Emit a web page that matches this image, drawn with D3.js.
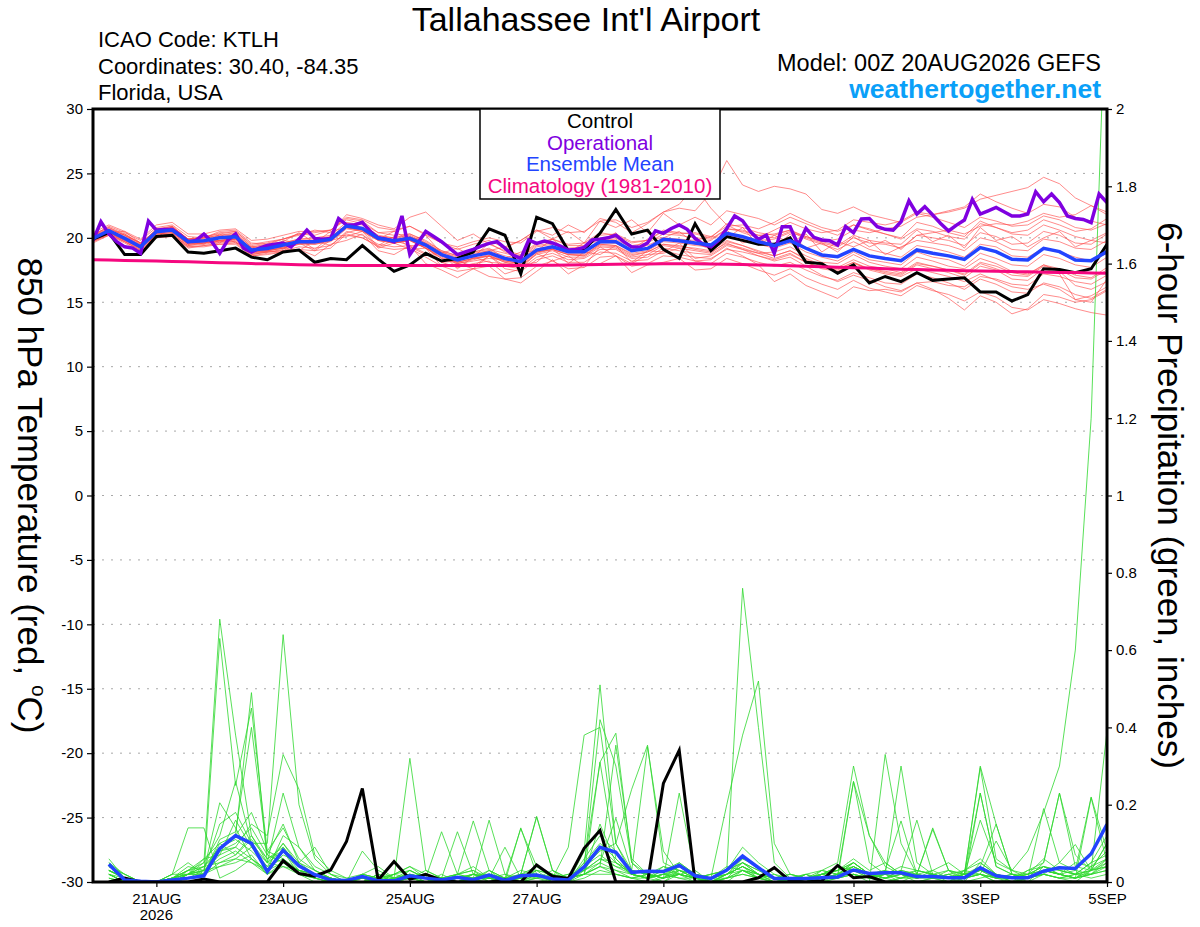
<!DOCTYPE html>
<html>
<head>
  <meta charset="utf-8" />
  <script src="https://d3js.org/d3.v7.min.js"></script>
  <style>
    * { margin: 0; padding: 0; }
    body { background: #fff; }
    svg { display: block; font-family: "Liberation Sans", Arial, Helvetica, sans-serif; }
  </style>
</head>
<body>
  <svg width="1200" height="927"></svg>

  <script>
    // run start and axis ticks
    const runStart = Date.UTC(2026, 7, 20, 0);
    const HOUR = 3600 * 1000;
    const dateTicks = [Date.UTC(2026, 7, 21), Date.UTC(2026, 7, 23), Date.UTC(2026, 7, 25), Date.UTC(2026, 7, 27),
                       Date.UTC(2026, 7, 29), Date.UTC(2026, 8, 1), Date.UTC(2026, 8, 3), Date.UTC(2026, 8, 5)];
    const dateLabels = ["21AUG", "23AUG", "25AUG", "27AUG", "29AUG", "1SEP", "3SEP", "5SEP"];
    const tempTicks = [-30, -25, -20, -15, -10, -5, 0, 5, 10, 15, 20, 25, 30];
    const precipTicks = [0, 0.2, 0.4, 0.6, 0.8, 1, 1.2, 1.4, 1.6, 1.8, 2];
    const legendItems = ["Control", "Operational", "Ensemble Mean", "Climatology (1981-2010)"];

    // 850 hPa temperature, 6-hourly from 00Z 20AUG
    const controlTemp = [19.9, 20.4, 18.7, 18.7, 20.1, 20.2, 18.9, 18.8, 19.0, 19.2, 18.5, 18.3, 18.9,
      19.05, 18.1, 18.4, 18.3, 19.4, 18.35, 17.4, 17.9, 18.8, 18.2, 18.4, 18.9, 20.7,
      20.2, 17.2, 21.6, 21.1, 19.0, 19.1, 20.35, 22.2, 20.3, 20.6, 19.1, 18.4, 21.1,
      19.0, 20.1, 19.8, 19.5, 19.5, 20.0, 18.1, 18.0, 17.25, 17.9, 16.5, 17.0, 16.6,
      17.3, 16.7, 16.8, 16.9, 15.8, 15.8, 15.1, 15.6, 17.6, 17.55, 17.3, 17.6, 19.5];

    const meanTemp = [19.96, 20.55, 19.96, 19.3, 20.47, 20.6, 19.7, 19.78, 20.0, 20.09, 19.05, 19.18, 19.44,
      19.7, 19.7, 19.88, 20.92, 20.73, 19.96, 19.78, 19.96, 19.44, 18.7, 18.28, 18.6, 18.84,
      18.4, 18.15, 19.05, 19.31, 18.92, 18.92, 19.7, 19.7, 19.0, 19.18, 19.88, 19.78, 19.6,
      19.44, 20.35, 20.09, 19.7, 19.4, 19.78, 19.19, 18.67, 18.54, 19.1, 18.6, 18.4, 18.23,
      19.06, 18.8, 18.6, 18.33, 19.24, 18.93, 18.33, 18.28, 19.19, 18.93, 18.28, 18.23, 18.93];

    const climoTemp = [18.3, 18.28, 18.25, 18.22, 18.2, 18.17, 18.14, 18.1, 18.07, 18.04, 18.0, 17.98, 17.95,
      17.92, 17.9, 17.88, 17.86, 17.85, 17.85, 17.85, 17.86, 17.86, 17.86, 17.86, 17.85, 17.85,
      17.85, 17.86, 17.87, 17.88, 17.9, 17.91, 17.93, 17.95, 17.96, 17.97, 17.98, 17.98, 17.98,
      17.97, 17.95, 17.93, 17.9, 17.87, 17.84, 17.8, 17.76, 17.72, 17.68, 17.65, 17.6, 17.57,
      17.54, 17.51, 17.48, 17.45, 17.43, 17.4, 17.38, 17.36, 17.33, 17.31, 17.3, 17.28, 17.26];

    // operational run, 3-hourly
    const operTemp = [19.8, 21.25, 20.3, 19.7, 19.3, 19.2, 18.8, 21.3, 20.6, 20.65, 20.65, 20.2, 19.7, 19.8, 20.3, 19.7,
      18.8, 19.8, 20.3, 19.2, 18.9, 19.2, 19.4, 19.5, 19.6, 19.3, 19.9, 20.6, 19.95, 19.9, 19.95, 21.5,
      21.0, 21.0, 21.2, 20.5, 20.0, 19.9, 19.7, 21.7, 18.7, 19.6, 20.5, 20.1, 19.7, 19.2, 18.7, 18.9,
      19.1, 19.36, 19.57, 19.7, 19.2, 18.66, 18.4, 19.83, 19.57, 19.75, 19.6, 19.36, 19.05, 19.1, 19.26, 19.83,
      19.9, 20.0, 20.2, 19.7, 19.3, 19.26, 19.6, 20.55, 20.35, 20.73, 21.0, 20.66, 19.96, 19.5, 19.31, 19.83,
      20.73, 21.7, 21.33, 20.47, 19.88, 20.2, 18.8, 20.87, 20.87, 19.44, 20.74, 20.04, 19.83, 19.78, 19.44, 20.87,
      20.4, 21.46, 21.5, 20.87, 20.66, 20.6, 21.25, 22.88, 21.85, 22.42, 21.77, 21.12, 20.53, 20.99, 21.38, 22.98,
      21.85, 22.1, 22.36, 22.03, 21.7, 21.7, 21.85, 23.58, 22.8, 23.4, 22.73, 21.7, 21.5, 21.43, 21.18, 23.4,
      22.73];

    // ensemble members, 6-hourly
    const memberTemp = [
      [20.2, 20.9, 20.4, 19.8, 20.8, 21.0, 20.1, 20.0, 20.5, 20.6, 19.6, 19.5, 19.9,
       20.3, 20.2, 20.6, 21.5, 21.3, 20.4, 20.5, 20.9, 20.3, 19.6, 19.1, 19.5, 19.8,
       19.2, 19.8, 20.6, 19.9, 20.5, 19.6, 21.3, 20.8, 21.4, 20.4, 21.9, 21.0, 21.6,
       21.0, 22.1, 21.8, 21.5, 21.0, 21.6, 21.1, 20.6, 20.2, 21.0, 20.7, 20.3, 20.0,
       21.2, 20.9, 20.4, 20.1, 21.3, 20.8, 20.4, 20.6, 21.4, 21.0, 20.5, 20.7, 21.5],
      [19.8, 20.3, 19.7, 19.0, 20.1, 20.2, 19.2, 19.4, 19.5, 19.6, 18.6, 18.8, 18.9,
       19.1, 19.0, 19.2, 20.3, 20.0, 19.3, 19.1, 19.2, 18.5, 17.8, 17.4, 17.6, 17.8,
       16.8, 16.5, 17.4, 18.3, 17.2, 17.9, 18.0, 18.6, 17.3, 17.9, 18.1, 18.4, 17.5,
       17.6, 18.4, 18.0, 17.5, 17.1, 17.6, 16.9, 16.4, 16.0, 16.7, 16.1, 15.8, 15.5,
       16.3, 15.9, 15.6, 15.1, 15.8, 15.4, 14.6, 14.4, 15.2, 14.9, 14.5, 14.2, 14.0],
      [20.1, 20.7, 20.2, 19.6, 20.6, 20.9, 19.9, 20.1, 20.3, 20.5, 19.5, 19.7, 19.9,
       20.3, 20.4, 20.6, 21.6, 21.4, 20.8, 20.6, 20.9, 20.2, 19.6, 19.3, 19.7, 20.0,
       19.7, 19.6, 20.5, 20.8, 20.4, 20.5, 21.3, 21.4, 20.8, 21.2, 22.0, 22.3, 22.1,
       23.5, 26.0, 24.1, 23.6, 24.0, 23.8, 23.4, 22.2, 21.9, 22.4, 21.8, 21.5, 21.2,
       21.9, 21.6, 21.2, 20.8, 21.6, 21.3, 20.9, 21.0, 21.7, 21.4, 20.8, 20.6, 21.1],
      [19.9, 20.5, 19.9, 19.2, 20.4, 20.5, 19.6, 19.6, 19.8, 19.9, 19.0, 19.0, 19.3,
       19.6, 19.5, 19.8, 20.8, 20.6, 19.9, 19.6, 19.8, 19.2, 18.5, 18.0, 18.3, 18.6,
       18.1, 17.9, 18.9, 19.1, 18.7, 18.6, 19.5, 19.4, 18.8, 19.0, 19.7, 19.6, 19.4,
       19.3, 20.2, 20.0, 19.8, 19.9, 20.4, 20.1, 19.7, 19.9, 20.6, 20.4, 20.7, 20.9,
       21.6, 21.8, 22.0, 22.3, 23.0, 23.3, 23.6, 23.9, 24.7, 24.2, 23.1, 22.5, 22.0],
      [19.7, 20.2, 19.6, 18.9, 20.0, 20.1, 19.3, 19.3, 19.5, 19.5, 18.6, 18.7, 18.9,
       19.1, 18.6, 19.5, 19.8, 20.3, 19.0, 18.7, 19.4, 18.0, 17.5, 16.9, 17.6, 17.0,
       16.8, 16.9, 17.8, 18.2, 17.6, 17.7, 18.5, 18.6, 17.8, 18.0, 18.6, 18.5, 18.2,
       18.0, 18.8, 18.5, 18.1, 17.8, 18.1, 17.5, 17.0, 16.7, 17.3, 16.9, 16.5, 16.4,
       17.2, 16.9, 16.5, 16.0, 16.8, 16.4, 15.8, 15.7, 16.5, 16.2, 15.6, 15.3, 16.0],
      [20.3, 20.8, 20.3, 19.5, 20.7, 20.9, 19.9, 20.0, 20.2, 20.4, 19.3, 19.5, 19.7,
       20.4, 19.6, 20.5, 20.8, 21.3, 19.9, 20.5, 19.8, 20.2, 18.8, 19.2, 18.5, 19.6,
       18.9, 18.6, 19.5, 19.9, 19.4, 19.4, 20.2, 20.3, 19.7, 19.8, 20.6, 20.4, 20.3,
       20.0, 21.1, 20.8, 20.4, 20.2, 20.6, 20.0, 19.6, 19.3, 20.0, 19.6, 19.5, 19.2,
       20.2, 20.0, 19.8, 19.4, 20.4, 20.1, 19.5, 19.6, 20.5, 20.2, 19.6, 19.5, 20.3],
      [19.8, 20.4, 19.8, 19.1, 20.2, 20.3, 19.4, 19.6, 19.7, 19.8, 18.8, 18.9, 19.1,
       19.9, 19.1, 20.1, 20.2, 20.0, 19.4, 20.1, 19.3, 18.7, 18.8, 17.6, 18.5, 18.1,
       18.0, 17.8, 18.7, 19.0, 18.5, 18.5, 19.3, 19.2, 18.5, 18.7, 19.4, 19.2, 19.0,
       18.8, 19.7, 19.4, 19.0, 18.6, 19.0, 18.4, 17.9, 17.7, 18.3, 17.8, 17.6, 17.3,
       18.1, 17.8, 17.5, 17.1, 18.0, 17.6, 17.1, 17.0, 17.8, 17.5, 16.9, 16.8, 17.5],
      [20.0, 20.6, 20.1, 19.5, 20.6, 20.8, 19.9, 20.0, 20.4, 20.5, 19.4, 19.6, 19.9,
       20.2, 20.6, 20.4, 21.8, 21.5, 21.0, 20.7, 21.6, 22.0, 20.9, 19.8, 20.3, 19.5,
       19.0, 18.7, 19.6, 19.9, 19.5, 19.6, 20.4, 20.2, 19.6, 19.8, 20.5, 20.3, 20.4,
       20.1, 20.9, 21.0, 20.7, 21.2, 21.9, 21.3, 20.8, 20.5, 21.0, 20.6, 20.3, 19.9,
       20.7, 20.5, 20.1, 19.9, 21.1, 20.8, 20.3, 20.2, 21.0, 20.6, 20.1, 19.8, 20.4],
      [19.9, 20.4, 19.8, 19.2, 20.3, 20.4, 19.5, 19.7, 19.8, 19.9, 18.9, 19.0, 19.2,
       19.5, 19.5, 19.7, 20.7, 20.5, 19.8, 19.6, 19.8, 19.2, 18.4, 18.1, 18.4, 18.6,
       18.2, 18.0, 18.9, 19.1, 18.7, 18.6, 19.4, 19.3, 18.6, 18.9, 19.5, 19.4, 19.1,
       18.9, 19.6, 19.1, 18.6, 18.2, 18.5, 17.8, 17.1, 16.6, 17.1, 16.7, 16.2, 15.9,
       16.5, 16.0, 15.3, 14.4, 15.5, 15.0, 14.1, 14.5, 15.6, 15.4, 15.0, 15.2, 15.9],
      [20.2, 20.7, 20.2, 19.4, 20.6, 20.7, 19.8, 19.9, 20.1, 20.2, 19.2, 19.3, 19.6,
       19.9, 19.9, 20.1, 21.0, 20.8, 20.1, 20.0, 20.2, 19.6, 18.9, 18.5, 18.8, 19.0,
       19.3, 19.8, 20.6, 20.2, 21.0, 20.4, 21.5, 21.2, 20.4, 21.1, 22.0, 22.6, 24.0,
       22.3, 21.0, 20.4, 20.0, 20.6, 21.2, 20.7, 20.4, 20.6, 21.4, 21.2, 21.0, 21.3,
       22.0, 21.8, 22.1, 22.4, 23.4, 22.8, 22.3, 21.9, 22.6, 22.4, 21.6, 21.3, 21.0],
      [19.6, 20.2, 19.7, 19.0, 20.1, 20.3, 19.3, 19.4, 19.6, 19.7, 18.7, 18.9, 19.0,
       19.3, 19.2, 19.4, 20.5, 20.2, 19.5, 19.3, 19.4, 18.8, 18.1, 17.7, 18.0, 18.2,
       17.2, 17.6, 18.8, 18.2, 18.6, 17.8, 19.3, 18.6, 18.0, 18.7, 18.8, 19.2, 18.2,
       18.3, 19.2, 18.6, 17.9, 16.6, 17.2, 16.3, 15.8, 15.3, 16.2, 15.9, 16.0, 15.8,
       16.5, 16.6, 16.3, 16.2, 17.0, 16.8, 16.4, 16.3, 17.2, 17.0, 16.6, 16.4, 17.1],
      [20.1, 20.6, 20.0, 19.4, 20.5, 20.6, 19.8, 19.8, 20.1, 20.2, 19.2, 19.3, 19.5,
       19.8, 19.8, 20.0, 21.0, 20.8, 20.1, 19.9, 20.1, 19.6, 18.9, 18.4, 18.7, 19.0,
       18.6, 18.3, 19.3, 19.5, 19.1, 19.0, 19.8, 19.9, 19.2, 19.4, 20.0, 19.9, 19.8,
       20.1, 20.0, 20.8, 19.4, 20.2, 19.6, 20.3, 18.9, 19.7, 19.3, 19.8, 18.7, 19.3,
       19.8, 19.6, 19.4, 19.0, 20.0, 19.7, 19.1, 19.0, 19.9, 19.7, 19.2, 19.1, 19.8],
      [19.7, 20.3, 19.7, 19.1, 20.2, 20.2, 19.4, 19.5, 19.7, 19.7, 18.7, 18.9, 19.0,
       19.6, 19.0, 19.8, 20.1, 20.5, 19.2, 19.6, 19.1, 19.2, 17.8, 18.0, 17.6, 18.6,
       17.6, 17.4, 18.3, 18.6, 18.1, 18.1, 18.9, 18.8, 18.2, 18.3, 19.0, 18.7, 18.5,
       18.4, 19.1, 18.9, 18.6, 18.3, 18.7, 18.1, 17.6, 17.4, 18.0, 17.6, 17.3, 17.1,
       17.9, 17.6, 17.3, 16.9, 17.8, 17.5, 16.8, 16.7, 17.6, 17.2, 15.2, 15.0, 16.8],
      [20.4, 21.0, 20.5, 19.9, 21.0, 21.2, 20.3, 20.3, 20.6, 20.7, 19.8, 19.9, 20.2,
       20.5, 20.5, 20.6, 21.4, 21.1, 20.4, 20.2, 20.3, 19.7, 19.0, 18.6, 18.9, 19.2,
       18.4, 18.9, 19.0, 19.9, 18.9, 19.6, 19.7, 20.4, 19.1, 19.9, 20.0, 20.5, 19.5,
       19.8, 20.7, 20.6, 20.2, 20.0, 20.5, 19.9, 19.5, 19.1, 19.7, 19.1, 18.8, 18.5,
       19.4, 19.2, 18.9, 18.5, 19.5, 19.3, 18.6, 18.5, 19.2, 18.9, 18.5, 18.2, 18.8],
      [19.8, 20.3, 19.8, 19.2, 20.3, 20.4, 19.5, 19.6, 19.8, 19.9, 18.8, 19.0, 19.2,
       19.5, 19.6, 19.8, 20.8, 20.5, 19.8, 19.6, 19.8, 19.2, 18.4, 18.0, 18.2, 18.4,
       18.3, 17.9, 18.1, 19.2, 18.0, 18.9, 18.7, 19.4, 18.1, 19.0, 18.9, 19.6, 18.4,
       18.6, 19.4, 19.1, 18.8, 18.9, 19.3, 18.6, 18.1, 18.0, 18.7, 18.1, 17.8, 17.6,
       18.5, 18.2, 17.8, 17.6, 18.4, 18.0, 17.4, 17.2, 17.9, 17.4, 16.3, 16.0, 16.6],
      [20.0, 20.5, 20.0, 19.3, 20.4, 20.5, 19.6, 19.7, 20.0, 20.0, 19.0, 19.1, 19.3,
       19.6, 19.6, 19.8, 20.8, 20.6, 19.9, 19.7, 19.9, 19.3, 18.6, 18.1, 18.4, 18.7,
       18.2, 18.0, 18.9, 19.2, 18.8, 18.8, 19.6, 19.6, 19.0, 19.2, 19.9, 19.8, 19.6,
       19.1, 20.6, 19.6, 20.0, 19.2, 20.3, 19.2, 19.6, 18.9, 20.1, 19.3, 19.8, 19.1,
       20.2, 20.4, 20.6, 20.3, 20.9, 21.1, 21.0, 21.3, 21.9, 21.6, 21.8, 22.5, 21.8],
      [19.9, 20.2, 20.3, 19.6, 20.0, 20.9, 19.5, 20.2, 19.6, 20.4, 18.8, 19.5, 19.2,
       19.7, 19.7, 19.9, 20.9, 20.7, 20.0, 19.8, 20.1, 19.5, 18.8, 18.3, 18.6, 18.9,
       18.4, 18.1, 19.0, 19.3, 18.9, 18.9, 19.7, 19.6, 19.0, 19.2, 19.9, 19.7, 19.5,
       19.3, 20.3, 20.0, 19.5, 19.2, 19.6, 18.9, 18.5, 18.2, 18.9, 18.3, 18.1, 17.9,
       18.9, 18.5, 18.3, 17.8, 18.8, 18.4, 17.9, 17.8, 18.7, 18.4, 17.9, 17.7, 18.5],
      [20.3, 20.4, 20.5, 19.6, 20.0, 20.8, 19.9, 19.5, 20.3, 19.6, 19.3, 18.9, 19.8,
       19.6, 19.6, 19.8, 20.8, 20.6, 19.8, 19.6, 19.8, 19.2, 18.6, 18.1, 18.4, 18.6,
       18.1, 17.8, 18.8, 19.1, 18.7, 18.7, 19.5, 19.4, 18.7, 18.9, 19.5, 19.3, 19.2,
       19.0, 19.8, 19.4, 18.9, 18.6, 19.0, 18.3, 17.8, 17.6, 18.1, 17.5, 17.2, 17.0,
       17.6, 17.3, 17.0, 16.6, 17.2, 16.7, 16.2, 16.0, 16.4, 16.0, 15.2, 15.5, 16.2],
      [20.2, 20.8, 20.2, 19.6, 20.6, 20.8, 19.9, 20.0, 20.2, 20.3, 19.3, 19.4, 19.6,
       19.9, 20.0, 20.2, 21.2, 21.0, 20.2, 20.0, 20.3, 19.8, 19.0, 18.6, 18.9, 19.1,
       18.8, 18.5, 19.4, 19.6, 19.2, 19.3, 20.0, 20.0, 19.4, 19.6, 20.3, 20.2, 20.0,
       19.9, 20.7, 20.5, 20.2, 20.3, 20.6, 20.1, 19.7, 19.4, 20.2, 19.8, 19.6, 19.5,
       20.6, 19.7, 20.2, 19.2, 20.8, 19.8, 20.1, 19.3, 20.0, 20.5, 19.3, 19.8, 19.6],
      [19.8, 20.4, 19.9, 19.2, 20.3, 20.4, 19.5, 19.6, 19.8, 19.9, 18.9, 19.0, 19.2,
       19.0, 19.8, 19.4, 20.4, 20.7, 19.3, 19.8, 19.4, 19.4, 18.1, 18.2, 17.8, 18.6,
       17.8, 17.6, 18.5, 18.8, 18.3, 18.4, 19.1, 19.1, 18.4, 18.5, 19.2, 19.0, 18.8,
       18.7, 19.5, 19.2, 18.8, 18.4, 18.8, 18.1, 17.7, 17.5, 18.1, 17.6, 17.4, 17.2,
       18.0, 17.8, 17.5, 17.2, 18.1, 17.8, 17.3, 17.1, 17.9, 17.6, 17.1, 16.9, 17.7]
    ];

    // 6-hour precipitation (inches), 6-hourly from 06Z 20AUG
    const controlPrecip = [0, .01, 0, 0, 0, 0, .008, 0, 0, 0, 0, .055, .022, .015, .031, .105,
      .242, .005, .053, .007, .02, .005, 0, 0, 0, .005, 0, .044, .015, .009, .087, .133,
      0, 0, 0, .255, .341, 0, 0, 0, 0, .011, .037, .003, 0, .003, .043, .011,
      .014, 0, 0, 0, 0, 0, 0, 0, 0, 0, 0, 0, 0, 0, 0, 0];

    const meanPrecip = [.046, .005, .002, 0, .005, .01, .016, .086, .12, .10, .027, .082, .042, .019, .005, .004,
      .014, .003, .003, .016, .01, .005, .012, .006, .018, .004, .016, .018, .008, .005, .039, .09,
      .077, .025, .028, .027, .043, .016, .009, .031, .067, .037, .009, .009, .009, .011, .013, .031,
      .022, .024, .024, .014, .014, .011, .011, .037, .016, .011, .011, .028, .037, .035, .073, .149];

    const memberPrecip = [
      [.05, .02, 0, 0, .02, .14, .14, .01, .03, .06, .02, .05, .03, .01, 0, 0,
       0, .01, 0, .02, 0, 0, .01, 0, .03, 0, .01, .02, 0, 0, .05, .10,
       .06, .02, .01, 0, .02, .03, 0, .01, .05, .02, 0, 0, .01, 0, .02, .05,
       .02, 0, .01, .03, .02, 0, .01, .02, 0, 0, .01, .03, .02, .01, .02, .05],
      [.02, 0, 0, 0, .01, .03, .05, .68, .38, .12, .05, .10, .04, .02, .01, 0,
       0, 0, .02, .04, .01, 0, 0, .02, .01, 0, 0, .03, .02, 0, .06, .12,
       .08, .03, .02, .01, .04, .02, .01, 0, .03, .01, 0, 0, 0, .02, .01, .03,
       .01, .02, 0, 0, .01, 0, .03, .02, 0, .01, 0, .02, .01, 0, .03, .06],
      [.03, .01, 0, 0, .02, .05, .02, .63, .25, .45, .08, .06, .03, .02, 0, 0,
       .01, 0, 0, .02, 0, .01, .13, .02, 0, .01, 0, .02, 0, 0, .04, .42,
       .30, .05, .02, 0, .03, .01, 0, .02, .06, .04, .01, 0, 0, .03, .05, .30,
       .12, .04, .02, 0, .01, .02, 0, .05, .02, 0, .03, .04, .02, .01, .03, .10],
      [.04, .02, 0, 0, 0, .02, .06, .10, .12, .49, .05, .08, .02, 0, 0, 0,
       0, .02, 0, .03, .01, 0, 0, .01, .16, .02, 0, .01, .03, 0, .08, .51,
       .10, .02, .01, .03, .05, .02, 0, .01, .02, .01, 0, .01, .02, 0, .01, .04,
       .02, .01, .03, .02, .14, .03, 0, .01, .02, 0, .01, .03, .02, .05, .04, .08],
      [.06, .01, 0, 0, .01, .04, .03, .15, .18, .10, .10, .64, .20, .06, .02, 0,
       .01, 0, .01, .01, 0, .02, 0, 0, .01, 0, .14, .02, .01, 0, .03, .09,
       .05, .03, .35, .08, .02, .01, .02, .03, .76, .40, .05, .01, 0, .02, .01, .02,
       0, .33, .10, .02, .01, 0, .02, .03, .01, .02, .02, .06, .03, .02, .05, .12],
      [.02, 0, 0, 0, 0, .03, .04, .08, .09, .15, .12, .33, .24, .07, .03, .01,
       0, .01, 0, .02, .01, 0, .02, .03, 0, .01, .02, .17, .03, .01, .02, .15,
       .05, .02, .01, .04, .02, 0, .01, .20, .38, .52, .10, .02, .01, .03, .02, .26,
       .05, .02, .30, .05, .02, .01, 0, .23, .04, .02, .01, .05, .23, .04, .03, .10],
      [.03, .01, 0, 0, .02, .02, .05, .12, .26, .10, .05, .23, .09, .03, .01, 0,
       .02, .04, .01, .32, .03, .01, 0, .01, .02, 0, 0, .02, .01, .09, .38, .40,
       .10, .03, .02, .01, .23, .02, .01, .03, .05, .02, 0, .01, .02, 0, .01, .02,
       .01, .02, .03, .16, .02, .01, .02, .30, .15, .02, 0, .04, .02, .03, .22, .08],
      [.01, 0, 0, 0, 0, .01, .03, .205, .14, .06, .03, .07, .05, .09, .02, 0,
       .08, .03, .01, .02, .01, 0, .02, .04, .01, 0, .02, .03, 0, .01, .02, .31,
       .385, .05, .01, .02, .01, .01, 0, .02, .03, .01, .02, 0, .01, .02, .03, .05,
       .02, .01, 0, .02, .136, .03, .01, .02, .106, .03, .01, .19, .05, .03, .02, .06],
      [.02, 0, 0, 0, .01, .02, .02, .09, .11, .08, .04, .06, .02, .01, 0, 0,
       0, .01, 0, .01, .02, 0, .01, 0, .02, .01, 0, 0, .01, .01, .02, .04,
       .354, .06, .02, .01, .02, .01, 0, .02, .04, .01, 0, 0, .02, .01, .02, .05,
       .02, .03, .02, .01, .03, .05, .02, .16, .05, .03, .08, .18, .30, .60, 1.20, 2.40],
      [.03, .01, 0, 0, 0, .02, .04, .05, .07, .12, .06, .09, .04, .02, .01, 0,
       .01, 0, .02, .04, .02, .01, .02, .01, .03, .01, .138, .04, .02, .01, .04, .08,
       .10, .24, .354, .05, .03, .02, .01, .03, .05, .03, .01, .02, .01, .02, .03, .04,
       .01, .02, .04, .03, .02, .01, .03, .06, .02, .01, .03, .05, .23, .07, .03, .39],
      [.04, .02, 0, 0, .01, .03, .02, .11, .13, .40, .07, .05, .03, .02, .01, 0,
       0, .02, .01, .03, .01, 0, .01, .02, .01, 0, .02, .168, .03, .01, .05, .31,
       .06, .02, .01, .03, .02, .01, 0, .02, .04, .02, .01, 0, .01, .02, .01, .26,
       .12, .05, .02, .01, .02, .01, .02, .03, .01, .02, .01, .03, .02, .01, .218, .05],
      [.02, 0, 0, 0, 0, .02, .03, .04, .06, .05, .03, .12, .09, .04, .02, .01,
       .02, .01, 0, .01, .03, .01, 0, .02, .01, .09, .01, .02, .01, .01, .02, .05,
       .03, .01, .02, .04, .03, .02, .01, .04, .03, .02, .01, .01, 0, .02, .04, .03,
       .02, .01, .03, .02, .01, .03, .02, .23, .04, .02, .01, .02, .05, .097, .03, .04],
      [.05, .01, 0, 0, .01, .03, .06, .07, .16, .09, .05, .04, .03, .02, .01, 0,
       0, .01, .02, .01, 0, .01, .02, .158, .03, .01, .02, .04, .01, .02, .03, .06,
       .05, .02, .01, .02, .04, .01, .02, .03, .06, .04, .01, 0, .01, .02, .03, .06,
       .03, .05, .02, .01, .02, .03, .02, .296, .06, .03, .02, .04, .03, .02, .05, .07],
      [.03, .01, 0, 0, 0, .01, .02, .08, .10, .14, .07, .15, .05, .03, .01, 0,
       .01, 0, .01, .02, .01, .13, .02, .01, .02, .01, .03, .02, .01, 0, .04, .07,
       .04, .03, .02, .01, .05, .02, .01, .02, .04, .02, .01, 0, .02, .03, .02, .04,
       .02, .03, .158, .02, .01, .02, .03, .05, .02, .01, .02, .03, .04, .02, .03, .05],
      [.02, 0, 0, 0, .01, .02, .03, .06, .08, .05, .02, .09, .04, .02, 0, 0,
       .02, .01, .02, .03, .01, 0, .01, .02, .01, .02, .01, .03, .02, .01, .03, .05,
       .165, .03, .02, .01, .03, .01, .02, .03, .09, .05, .02, .01, .01, .02, .04, .03,
       .02, .01, .02, .03, .02, .01, .02, .04, .15, .02, .01, .03, .02, .01, .04, .06],
      [.04, .01, 0, 0, 0, .02, .04, .09, .12, .18, .08, .14, .06, .03, .01, 0,
       .02, .01, 0, .02, .01, .01, .02, .03, .01, 0, .02, .01, .01, .02, .03, .06,
       .04, .02, .01, .02, .03, .01, .01, .02, .05, .03, .01, .02, .01, .01, .02, .04,
       .02, .02, .01, .02, .03, .01, .02, .03, .02, .01, .02, .04, .03, .02, .03, .04],
      [.03, .01, 0, 0, .01, .02, .02, .10, .07, .11, .06, .08, .03, .02, .01, 0,
       0, .01, .01, .02, .01, 0, .01, .02, .02, .01, .01, .02, .01, 0, .02, .04,
       .03, .02, .01, .02, .02, .01, 0, .01, .03, .02, .01, 0, .01, .02, .03, .05,
       .02, .01, .02, .01, .02, .01, .01, .02, .01, .01, .02, .03, .02, .01, .02, .03],
      [.01, 0, 0, 0, 0, .01, .02, .05, .06, .09, .04, .10, .05, .02, .01, 0,
       .01, 0, .01, .01, 0, .01, .01, .01, .02, 0, .01, .02, .01, .01, .02, .04,
       .02, .01, .02, .01, .02, .01, .01, .02, .04, .02, .01, .01, 0, .01, .02, .03,
       .01, .02, .01, .02, .01, .02, .01, .03, .02, .01, .01, .02, .01, .02, .02, .04],
      [.02, .01, 0, 0, .01, .02, .03, .07, .09, .06, .03, .05, .02, .01, 0, 0,
       0, .02, 0, .01, .01, 0, .01, .01, .01, .01, 0, .01, .02, 0, .01, .03,
       .02, .01, .01, .02, .01, 0, .01, .01, .03, .01, .01, 0, .01, .01, .02, .02,
       .01, .01, .02, .01, .01, .01, .02, .02, .01, .01, .01, .02, .01, .01, .02, .03],
      [.03, .01, 0, 0, 0, .01, .02, .04, .05, .07, .02, .04, .02, .01, 0, 0,
       .01, 0, 0, .01, 0, .01, 0, .01, .01, 0, .01, .01, 0, .01, .02, .02,
       .02, .01, 0, .01, .02, .01, 0, .01, .02, .01, 0, .01, 0, .01, .01, .02,
       .01, 0, .01, .01, .02, .01, .01, .02, .01, 0, .01, .02, .01, .02, .01, .02]
    ];

    const svg = d3.select("svg");
    const plotL = 93, plotR = 1107, plotT = 109, plotB = 882;

    const timeAt = (i, stepHours) => new Date(runStart + i * stepHours * HOUR);

    const x = d3.scaleUtc()
      .domain([new Date(runStart), timeAt(64, 6)])
      .range([plotL, plotR]);
    const yT = d3.scaleLinear().domain([-30, 30]).range([plotB, plotT]);
    const yP = d3.scaleLinear().domain([0, 2]).range([plotB, plotT]);

    svg.append("defs").append("clipPath").attr("id", "plotClip")
      .append("rect")
      .attr("x", plotL).attr("y", plotT)
      .attr("width", plotR - plotL).attr("height", plotB - plotT);

    // dotted grid at temperature ticks
    svg.append("g")
      .selectAll("line")
      .data(tempTicks.filter(d => d > -30 && d < 30))
      .join("line")
      .attr("x1", plotL).attr("x2", plotR)
      .attr("y1", d => yT(d)).attr("y2", d => yT(d))
      .attr("stroke", "#a8a8a8")
      .attr("stroke-width", 1)
      .attr("stroke-dasharray", "2,7");

    const plot = svg.append("g").attr("clip-path", "url(#plotClip)");

    const tempLine = step => d3.line().x((d, i) => x(timeAt(i, step))).y(d => yT(d));
    const precipLine = d3.line().x((d, i) => x(timeAt(i + 1, 6))).y(d => yP(d));

    // ensemble members
    plot.append("g").selectAll("path")
      .data(memberTemp)
      .join("path")
      .attr("d", tempLine(6))
      .attr("fill", "none")
      .attr("stroke", "#ff4a4a")
      .attr("stroke-opacity", 0.8)
      .attr("stroke-width", 0.8);

    plot.append("g").selectAll("path")
      .data(memberPrecip)
      .join("path")
      .attr("d", precipLine)
      .attr("fill", "none")
      .attr("stroke", "#2fd82f")
      .attr("stroke-width", 0.8);

    // control
    plot.append("path").datum(controlPrecip)
      .attr("d", precipLine)
      .attr("fill", "none").attr("stroke", "#000").attr("stroke-width", 3);
    plot.append("path").datum(controlTemp)
      .attr("d", tempLine(6))
      .attr("fill", "none").attr("stroke", "#000").attr("stroke-width", 3);

    // operational
    plot.append("path").datum(operTemp)
      .attr("d", tempLine(3))
      .attr("fill", "none").attr("stroke", "#7f00e0").attr("stroke-width", 3.5);

    // ensemble mean
    plot.append("path").datum(meanPrecip)
      .attr("d", precipLine)
      .attr("fill", "none").attr("stroke", "#2244ff").attr("stroke-width", 3.5);
    plot.append("path").datum(meanTemp)
      .attr("d", tempLine(6))
      .attr("fill", "none").attr("stroke", "#2244ff").attr("stroke-width", 3.5);

    // climatology
    plot.append("path").datum(climoTemp)
      .attr("d", tempLine(6))
      .attr("fill", "none").attr("stroke", "#f5077f").attr("stroke-width", 3);

    // axes
    const axisStyle = g => {
      g.select(".domain").remove();
      g.selectAll("line").attr("stroke", "#000").attr("stroke-width", 1.2);
      g.selectAll("text").attr("font-size", 15).attr("fill", "#000")
        .attr("font-family", "'Liberation Sans', Arial, sans-serif");
    };

    svg.append("g")
      .attr("transform", `translate(${plotL},0)`)
      .call(d3.axisLeft(yT).tickValues(tempTicks).tickSize(6).tickPadding(4).tickFormat(d => String(d)))
      .call(axisStyle);

    svg.append("g")
      .attr("transform", `translate(${plotR},0)`)
      .call(d3.axisRight(yP).tickValues(precipTicks).tickSize(5).tickPadding(4).tickFormat(d => String(+d.toFixed(1))))
      .call(axisStyle);

    const xAxis = svg.append("g")
      .attr("transform", `translate(0,${plotB})`)
      .call(d3.axisBottom(x).tickValues(dateTicks.map(d => new Date(d)))
        .tickSize(5).tickPadding(6).tickFormat((d, i) => dateLabels[i]))
      .call(axisStyle);

    xAxis.append("text")
      .attr("x", x(new Date(dateTicks[0])))
      .attr("y", 38)
      .attr("text-anchor", "middle")
      .attr("font-size", 15)
      .attr("fill", "#000")
      .text("2026");

    // frame
    svg.append("rect")
      .attr("x", plotL).attr("y", plotT)
      .attr("width", plotR - plotL).attr("height", plotB - plotT)
      .attr("fill", "none").attr("stroke", "#000").attr("stroke-width", 3);

    // legend
    const legendColors = ["#000", "#7f00e0", "#2244ff", "#f5077f"];
    svg.append("rect")
      .attr("x", 480).attr("y", plotT).attr("width", 240).attr("height", 90)
      .attr("fill", "#fff").attr("stroke", "#000").attr("stroke-width", 1.5);
    svg.append("g").selectAll("text")
      .data(legendItems)
      .join("text")
      .attr("x", 600)
      .attr("y", (d, i) => 128 + i * 21.5)
      .attr("text-anchor", "middle")
      .attr("font-size", 20.5)
      .attr("fill", (d, i) => legendColors[i])
      .text(d => d);

    // header
    svg.append("text")
      .attr("x", 586).attr("y", 31)
      .attr("text-anchor", "middle")
      .attr("font-size", 34)
      .text("Tallahassee Int'l Airport");

    const info = ["ICAO Code: KTLH", "Coordinates: 30.40, -84.35", "Florida, USA"];
    svg.append("g").selectAll("text")
      .data(info)
      .join("text")
      .attr("x", 98)
      .attr("y", (d, i) => 47 + i * 26.5)
      .attr("font-size", 22)
      .text(d => d);

    svg.append("text")
      .attr("x", 1101).attr("y", 71)
      .attr("text-anchor", "end")
      .attr("font-size", 23.5)
      .text("Model: 00Z 20AUG2026 GEFS");

    svg.append("text")
      .attr("x", 1101).attr("y", 98)
      .attr("text-anchor", "end")
      .attr("font-size", 26.5)
      .attr("font-weight", "bold")
      .attr("fill", "#0aa0f8")
      .text("weathertogether.net");

    // axis titles
    const leftTitle = svg.append("text")
      .attr("transform", `translate(30,${(plotT + plotB) / 2}) rotate(90)`)
      .attr("text-anchor", "middle")
      .attr("dy", "0.35em")
      .attr("font-size", 35);
    leftTitle.append("tspan").text("850 hPa Temperature (red, ");
    leftTitle.append("tspan").attr("font-size", 21).attr("dy", -14).text("o");
    leftTitle.append("tspan").attr("dy", 14).text("C)");

    svg.append("text")
      .attr("transform", `translate(1170,${(plotT + plotB) / 2}) rotate(90)`)
      .attr("text-anchor", "middle")
      .attr("dy", "0.35em")
      .attr("font-size", 35)
      .text("6-hour Precipitation (green, inches)");
  </script>
</body>
</html>
